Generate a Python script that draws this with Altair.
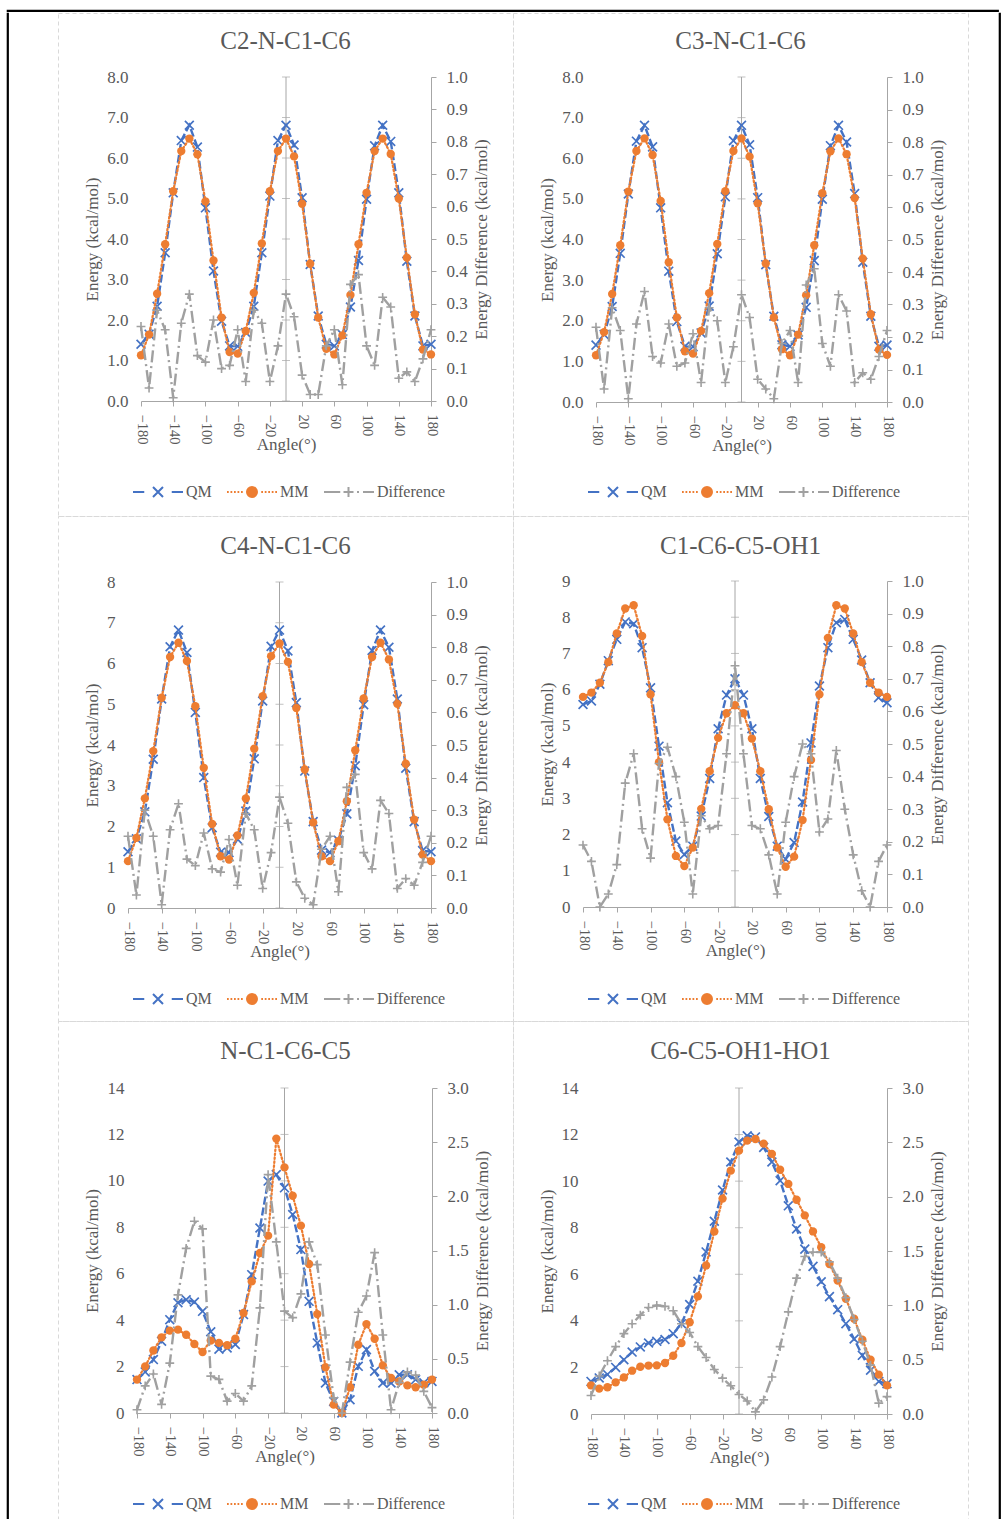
import altair as alt
import pandas as pd

# ---------------------------------------------------------------- data
ANGLES = [-180, -170, -160, -150, -140, -130, -120, -110, -100, -90, -80, -70, -60,
          -50, -40, -30, -20, -10, 0, 10, 20, 30, 40, 50, 60, 70, 80, 90, 100, 110,
          120, 130, 140, 150, 160, 170, 180]
ANGLE_TICKS = [-180, -140, -100, -60, -20, 20, 60, 100, 140, 180]
SERIES = ["QM", "MM", "Difference"]

# C2-N-C1-C6
QM_1 = [1.40, 1.65, 2.34, 3.66, 5.14, 6.43, 6.81, 6.27, 4.77, 3.21, 1.97, 1.36, 1.35,
        1.69, 2.34, 3.66, 5.06, 6.43, 6.81, 6.32, 5.02, 3.37, 2.10, 1.40, 1.36, 1.64,
        2.32, 3.47, 4.98, 6.30, 6.81, 6.41, 5.14, 3.45, 2.10, 1.36, 1.40]
MM_1 = [1.13, 1.64, 2.65, 3.87, 5.18, 6.17, 6.48, 6.09, 4.93, 3.47, 2.06, 1.21, 1.17,
        1.73, 2.67, 3.89, 5.18, 6.17, 6.48, 6.04, 4.87, 3.39, 2.06, 1.29, 1.15, 1.62,
        2.62, 3.87, 5.14, 6.17, 6.48, 6.10, 5.00, 3.54, 2.14, 1.27, 1.15]
DIFF_1 = [0.23, 0.04, 0.28, 0.22, 0.01, 0.24, 0.33, 0.14, 0.12, 0.25, 0.10, 0.11, 0.22,
          0.06, 0.28, 0.24, 0.06, 0.17, 0.33, 0.26, 0.08, 0.02, 0.02, 0.17, 0.22, 0.05,
          0.36, 0.39, 0.17, 0.11, 0.32, 0.29, 0.07, 0.09, 0.06, 0.13, 0.22]

# C3-N-C1-C6
QM_2 = [1.40, 1.66, 2.35, 3.66, 5.12, 6.42, 6.81, 6.28, 4.78, 3.22, 1.98, 1.37, 1.36,
        1.70, 2.36, 3.65, 5.05, 6.43, 6.81, 6.33, 5.03, 3.38, 2.11, 1.41, 1.37, 1.65,
        2.33, 3.48, 4.99, 6.31, 6.81, 6.40, 5.13, 3.44, 2.11, 1.37, 1.40]
MM_2 = [1.15, 1.72, 2.66, 3.86, 5.18, 6.18, 6.49, 6.08, 4.95, 3.44, 2.08, 1.25, 1.19,
        1.75, 2.68, 3.89, 5.19, 6.18, 6.49, 6.04, 4.89, 3.41, 2.08, 1.30, 1.15, 1.66,
        2.63, 3.86, 5.14, 6.17, 6.49, 6.10, 5.02, 3.53, 2.16, 1.29, 1.16]
DIFF_2 = [0.23, 0.04, 0.29, 0.22, 0.01, 0.24, 0.34, 0.14, 0.12, 0.24, 0.11, 0.12, 0.21,
          0.06, 0.29, 0.25, 0.06, 0.17, 0.33, 0.26, 0.07, 0.04, 0.01, 0.18, 0.22, 0.06,
          0.36, 0.41, 0.18, 0.11, 0.33, 0.28, 0.06, 0.09, 0.07, 0.14, 0.22]

# C4-N-C1-C6
QM_3 = [1.38, 1.70, 2.36, 3.65, 5.13, 6.41, 6.82, 6.27, 4.80, 3.20, 1.97, 1.37, 1.36,
        1.69, 2.38, 3.66, 5.08, 6.42, 6.82, 6.31, 5.04, 3.36, 2.12, 1.42, 1.36, 1.66,
        2.31, 3.49, 4.99, 6.32, 6.82, 6.40, 5.13, 3.43, 2.12, 1.41, 1.38]
MM_3 = [1.15, 1.72, 2.69, 3.85, 5.16, 6.16, 6.51, 6.06, 4.95, 3.44, 2.06, 1.27, 1.19,
        1.78, 2.69, 3.91, 5.20, 6.18, 6.49, 6.04, 4.91, 3.40, 2.10, 1.27, 1.15, 1.64,
        2.62, 3.87, 5.14, 6.16, 6.51, 6.10, 5.01, 3.54, 2.17, 1.31, 1.15]
DIFF_3 = [0.22, 0.04, 0.30, 0.22, 0.01, 0.24, 0.32, 0.15, 0.13, 0.23, 0.12, 0.11, 0.21,
          0.07, 0.29, 0.24, 0.06, 0.17, 0.34, 0.26, 0.08, 0.03, 0.01, 0.18, 0.22, 0.05,
          0.37, 0.41, 0.17, 0.12, 0.33, 0.29, 0.06, 0.09, 0.07, 0.14, 0.22]

# C1-C6-C5-OH1
QM_4 = [5.59, 5.69, 6.15, 6.80, 7.39, 7.87, 7.82, 7.16, 6.05, 4.44, 2.88, 1.82, 1.45,
        1.68, 2.51, 3.55, 4.92, 5.85, 6.30, 5.85, 4.92, 3.55, 2.50, 1.68, 1.32, 1.78,
        2.90, 4.53, 6.10, 7.16, 7.85, 7.94, 7.39, 6.82, 6.19, 5.78, 5.64]
MM_4 = [5.80, 5.92, 6.19, 6.76, 7.55, 8.24, 8.33, 7.48, 5.87, 4.00, 2.42, 1.41, 1.13,
        1.64, 2.71, 3.75, 4.67, 5.35, 5.57, 5.35, 4.65, 3.75, 2.70, 1.64, 1.11, 1.39,
        2.40, 4.06, 5.87, 7.43, 8.33, 8.24, 7.55, 6.76, 6.19, 5.92, 5.80]
DIFF_4 = [0.19, 0.14, 0.00, 0.04, 0.13, 0.38, 0.47, 0.24, 0.15, 0.44, 0.49, 0.40, 0.26,
          0.04, 0.28, 0.24, 0.25, 0.47, 0.74, 0.47, 0.25, 0.24, 0.16, 0.04, 0.26, 0.40,
          0.50, 0.47, 0.23, 0.27, 0.48, 0.30, 0.16, 0.05, 0.00, 0.14, 0.19]

# N-C1-C6-C5
QM_5 = [1.44, 1.77, 2.30, 3.09, 4.02, 4.75, 4.88, 4.78, 4.38, 3.50, 2.75, 2.80, 2.95,
        4.24, 5.96, 7.97, 9.99, 10.27, 9.70, 8.55, 7.04, 4.81, 3.02, 1.29, 0.50, 0.00,
        0.57, 2.01, 2.73, 1.80, 1.29, 1.29, 1.65, 1.65, 1.44, 1.30, 1.36]
MM_5 = [1.44, 2.01, 2.69, 3.26, 3.55, 3.59, 3.37, 2.97, 2.63, 3.12, 3.02, 2.92, 3.20,
        4.31, 5.67, 6.89, 7.64, 11.82, 10.58, 9.36, 8.07, 6.42, 4.26, 1.97, 0.36, 0.00,
        1.11, 2.94, 3.83, 3.20, 2.05, 1.51, 1.36, 1.19, 1.11, 1.22, 1.44]
DIFF_5 = [0.03, 0.25, 0.36, 0.08, 0.46, 1.09, 1.52, 1.77, 1.70, 0.34, 0.31, 0.11, 0.18,
          0.11, 0.25, 0.97, 2.20, 1.58, 0.94, 0.88, 1.10, 1.58, 1.37, 0.72, 0.14, 0.00,
          0.47, 0.93, 1.08, 1.48, 0.72, 0.03, 0.28, 0.38, 0.35, 0.20, 0.05]

# C6-C5-OH1-HO1
QM_6 = [1.40, 1.55, 1.70, 2.00, 2.33, 2.66, 2.88, 3.05, 3.12, 3.20, 3.45, 3.88, 4.70,
        5.70, 6.96, 8.28, 9.62, 10.82, 11.68, 11.95, 11.90, 11.45, 10.82, 10.02, 8.94,
        7.95, 7.08, 6.34, 5.68, 5.04, 4.48, 3.88, 3.22, 2.52, 1.88, 1.40, 1.30]
MM_6 = [1.23, 1.09, 1.15, 1.36, 1.57, 1.86, 2.03, 2.08, 2.09, 2.19, 2.50, 3.05, 3.94,
        5.05, 6.38, 7.84, 9.25, 10.45, 11.31, 11.74, 11.81, 11.61, 11.17, 10.49, 9.88,
        9.20, 8.53, 7.84, 7.16, 6.44, 5.73, 4.95, 4.09, 3.19, 2.33, 1.69, 1.23]
DIFF_6 = [0.17, 0.35, 0.49, 0.62, 0.74, 0.83, 0.91, 0.98, 1.00, 0.99, 0.95, 0.83, 0.75,
          0.62, 0.52, 0.41, 0.33, 0.26, 0.18, 0.12, 0.02, 0.13, 0.34, 0.62, 0.94, 1.25,
          1.45, 1.49, 1.49, 1.40, 1.25, 1.07, 0.87, 0.67, 0.45, 0.10, 0.16]

ENERGY_TICKS_8 = [0, 1, 2, 3, 4, 5, 6, 7, 8]
ENERGY_TICKS_9 = [0, 1, 2, 3, 4, 5, 6, 7, 8, 9]
ENERGY_TICKS_14 = [0, 2, 4, 6, 8, 10, 12, 14]
DIFF_TICKS_1 = [0.0, 0.1, 0.2, 0.3, 0.4, 0.5, 0.6, 0.7, 0.8, 0.9, 1.0]
DIFF_TICKS_3 = [0.0, 0.5, 1.0, 1.5, 2.0, 2.5, 3.0]

# ---------------------------------------------------------------- style
FONT = "Liberation Serif"
TEXT = "#595959"
AXIS = "#A6A6A6"
BLUE = "#4472C4"
ORANGE = "#ED7D31"
GRAY = "#A0A0A0"
PANEL_W = 455

X_MARK = "M-1,-1L1,1M-1,1L1,-1"
PLUS_MARK = "M-1,0L1,0M0,-1L0,1"

# legend glyphs: a short stretch of the line style with the marker in the middle
QM_GLYPH = "M-1,0H-0.55M-0.2,-0.2L0.2,0.2M-0.2,0.2L0.2,-0.2M0.55,0H1"
MM_GLYPH = ("M-1,0h0.07M-0.86,0h0.07M-0.72,0h0.07M-0.58,0h0.07M-0.44,0h0.07"
            "M-0.2,0a0.2,0.2 0 1,0 0.4,0a0.2,0.2 0 1,0 -0.4,0Z"
            "M0.37,0h0.07M0.51,0h0.07M0.65,0h0.07M0.79,0h0.07M0.93,0h0.07")
DIFF_GLYPH = "M-1,0H-0.35M-0.22,0H0.18M-0.02,-0.2V0.2M0.32,0H0.4M0.56,0H1"

PANELS = [
    dict(title="C2-N-C1-C6", qm=QM_1, mm=MM_1, diff=DIFF_1, emax=8, eticks=ENERGY_TICKS_8,
         efmt=".1f", dmax=1.0, dticks=DIFF_TICKS_1, H=503, x0=83, x1=373, ytop=64,
         ybot=388, title_y=28, legend_y=478),
    dict(title="C3-N-C1-C6", qm=QM_2, mm=MM_2, diff=DIFF_2, emax=8, eticks=ENERGY_TICKS_8,
         efmt=".1f", dmax=1.0, dticks=DIFF_TICKS_1, H=503, x0=83, x1=374, ytop=64,
         ybot=389, title_y=28, legend_y=478),
    dict(title="C4-N-C1-C6", qm=QM_3, mm=MM_3, diff=DIFF_3, emax=8, eticks=ENERGY_TICKS_8,
         efmt="d", dmax=1.0, dticks=DIFF_TICKS_1, H=505, x0=70, x1=373, ytop=66,
         ybot=392, title_y=30, legend_y=482),
    dict(title="C1-C6-C5-OH1", qm=QM_4, mm=MM_4, diff=DIFF_4, emax=9, eticks=ENERGY_TICKS_9,
         efmt="d", dmax=1.0, dticks=DIFF_TICKS_1, H=505, x0=70, x1=374, ytop=65,
         ybot=391, title_y=30, legend_y=482),
    dict(title="N-C1-C6-C5", qm=QM_5, mm=MM_5, diff=DIFF_5, emax=14, eticks=ENERGY_TICKS_14,
         efmt="d", dmax=3.0, dticks=DIFF_TICKS_3, H=505, x0=79, x1=374, ytop=67,
         ybot=392, title_y=30, legend_y=482),
    dict(title="C6-C5-OH1-HO1", qm=QM_6, mm=MM_6, diff=DIFF_6, emax=14, eticks=ENERGY_TICKS_14,
         efmt="d", dmax=3.0, dticks=DIFF_TICKS_3, H=505, x0=78, x1=374, ytop=67,
         ybot=393, title_y=30, legend_y=482),
]


def build_panel(p):
    W, H = PANEL_W, p["H"]
    x0, x1, ytop, ybot = p["x0"], p["x1"], p["ytop"], p["ybot"]
    df = pd.DataFrame({"angle": ANGLES, "QM": p["qm"], "MM": p["mm"],
                       "Difference": p["diff"]})
    zero_df = pd.DataFrame({"angle": [0], "lo": [0], "hi": [p["emax"]]})
    ticks_df = pd.DataFrame({"angle": [0] * len(p["eticks"]), "tick": p["eticks"]})
    legend_df = pd.DataFrame({"series": pd.Series([], dtype="object")})

    xs = alt.Scale(domain=[-180, 180], range=[x0, x1], nice=False, zero=False)
    es = alt.Scale(domain=[0, p["emax"]], range=[ybot, ytop], nice=False, zero=False)
    ds = alt.Scale(domain=[0, p["dmax"]], range=[ybot, ytop], nice=False, zero=False)

    # the panel's view is the whole chart area; axes are pulled in onto the plot area
    x_axis = alt.Axis(
        orient="bottom", offset=-(H - ybot), values=ANGLE_TICKS, labelAngle=90,
        labelAlign="left", labelBaseline="middle", labelFontSize=14.5, labelPadding=8,
        labelFlush=False, labelOverlap=False, tickSize=5, domainColor=AXIS,
        tickColor=AXIS, title="Angle(°)", titleFontSize=17, titleX=(x0 + x1) / 2,
        titleY=43, titleBaseline="middle", titleAlign="center")
    left_axis = alt.Axis(
        orient="left", offset=-x0, values=p["eticks"], format=p["efmt"], domain=False,
        ticks=False, labelPadding=13, labelFontSize=17,
        title="Energy (kcal/mol)", titleFontSize=17, titleAngle=270,
        titleX=34 - x0, titleY=(ytop + ybot) / 2, titleBaseline="middle",
        titleAlign="center")
    right_axis = alt.Axis(
        orient="right", offset=-(W - x1), values=p["dticks"], format=".1f",
        domainColor=AXIS, tickColor=AXIS, tickSize=5, labelPadding=10, labelFontSize=17,
        title="Energy Difference (kcal/mol)", titleFontSize=17, titleAngle=270,
        titleX=50, titleY=(ytop + ybot) / 2, titleBaseline="middle", titleAlign="center")

    # x is shared by every layer, so every layer carries the same axis definition
    x_enc = alt.X("angle:Q", scale=xs, axis=x_axis)

    def e_enc(field, axis=None):
        return alt.Y(f"{field}:Q", scale=es, axis=axis)

    def d_enc(field, axis=None):
        return alt.Y(f"{field}:Q", scale=ds, axis=axis)

    zero_rule = alt.Chart(zero_df).mark_rule(color=AXIS, strokeWidth=1).encode(
        x=x_enc, y=e_enc("lo"), y2="hi:Q")
    zero_ticks = alt.Chart(ticks_df).mark_tick(
        orient="horizontal", size=8, thickness=1, color=AXIS).encode(
        x=x_enc, y=e_enc("tick"))

    base = alt.Chart(df)
    qm_line = base.mark_line(color=BLUE, strokeDash=[8, 3], strokeWidth=2.4).encode(
        x=x_enc, y=e_enc("QM", left_axis))
    qm_pts = base.mark_point(shape=X_MARK, size=78, color=BLUE, strokeWidth=1.7,
                             filled=False, opacity=1).encode(x=x_enc, y=e_enc("QM"))
    mm_line = base.mark_line(color=ORANGE, strokeDash=[1.5, 2.5], strokeWidth=2.25,
                             strokeCap="round").encode(x=x_enc, y=e_enc("MM"))
    mm_pts = base.mark_point(shape="circle", size=70, color=ORANGE, filled=True,
                             opacity=1).encode(x=x_enc, y=e_enc("MM"))
    diff_line = base.mark_line(color=GRAY, strokeDash=[12, 4, 2, 4],
                               strokeWidth=2.4).encode(
        x=x_enc, y=d_enc("Difference", right_axis))
    diff_pts = base.mark_point(shape=PLUS_MARK, size=78, color=GRAY, strokeWidth=1.6,
                               filled=False, opacity=1).encode(
        x=x_enc, y=d_enc("Difference"))

    legend = alt.Legend(
        orient="none", legendX=74, legendY=p["legend_y"] - 25, direction="horizontal",
        title=None, labelFontSize=16, symbolSize=2500, symbolStrokeWidth=2,
        labelOffset=2, columnPadding=11, padding=0, symbolOpacity=1)
    key = alt.Chart(legend_df).mark_point().encode(
        shape=alt.Shape("series:N", legend=legend, scale=alt.Scale(
            domain=SERIES, range=[QM_GLYPH, MM_GLYPH, DIFF_GLYPH])),
        stroke=alt.Stroke("series:N", legend=legend, scale=alt.Scale(
            domain=SERIES, range=[BLUE, ORANGE, GRAY])),
        fill=alt.Fill("series:N", legend=legend, scale=alt.Scale(
            domain=SERIES, range=["transparent", ORANGE, "transparent"])),
    )

    layered = alt.layer(qm_line, zero_rule, zero_ticks, qm_pts, mm_line, mm_pts,
                        diff_line, diff_pts, key).resolve_scale(y="independent")
    return layered.properties(
        width=W, height=H,
        title=alt.TitleParams(p["title"], fontSize=25, anchor="middle", frame="group",
                              offset=-(p["title_y"] + 25), baseline="middle"),
        view=alt.ViewBackground(stroke="#D9D9D9", strokeDash=[4, 3], strokeWidth=1),
    )


def frame_piece(width, height):
    return alt.Chart(pd.DataFrame({"v": [0]})).mark_point(size=0, opacity=0).encode(
        x=alt.value(0), y=alt.value(0)).properties(
        width=width, height=height,
        view=alt.ViewBackground(stroke="#000000", strokeWidth=1.2))


INDEP = dict(shape="independent", stroke="independent", fill="independent")

panels = [build_panel(p) for p in PANELS]
# one 2-column grid laid out by the panels' own sizes
grid = alt.concat(*panels, columns=2, spacing=0, bounds="flush",
                  align="each").resolve_scale(**INDEP)
body_h = PANELS[0]["H"] + PANELS[2]["H"] + PANELS[4]["H"]
body = alt.hconcat(
    alt.hconcat(frame_piece(1, body_h), grid, spacing=48).resolve_scale(**INDEP),
    frame_piece(1, body_h), spacing=29).resolve_scale(**INDEP)

chart = alt.vconcat(frame_piece(991, 1), body, spacing=0).resolve_scale(**INDEP).properties(
    padding={"left": 6, "top": 9, "right": 0, "bottom": 0}, background="white",
).configure_axis(
    labelFont=FONT, labelColor=TEXT, titleFont=FONT, titleColor=TEXT,
    titleFontWeight="normal", grid=False,
).configure_legend(
    labelFont=FONT, labelColor=TEXT,
).configure_title(
    font=FONT, color=TEXT, fontWeight="normal",
)

chart.save("out.html", embed_options={"renderer": "svg", "actions": False})
